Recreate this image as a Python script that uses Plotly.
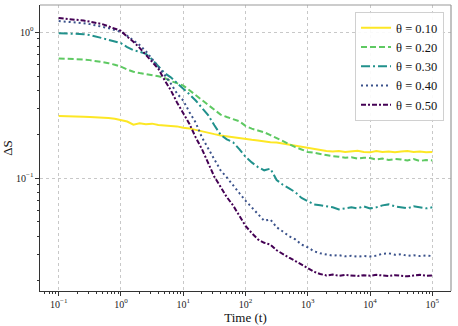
import plotly.graph_objects as go

# log10(t) sample exponents
log_t = [-1.0, -0.9, -0.8, -0.7, -0.6, -0.5, -0.4, -0.3, -0.2, -0.1,
         0.0, 0.1, 0.2, 0.3, 0.4, 0.5, 0.6, 0.7, 0.8, 0.9,
         1.0, 1.1, 1.2, 1.3, 1.4, 1.5, 1.6, 1.7, 1.8, 1.9,
         2.0, 2.1, 2.2, 2.3, 2.4, 2.5, 2.6, 2.7, 2.8, 2.9,
         3.0, 3.1, 3.2, 3.3, 3.4, 3.5, 3.6, 3.7, 3.8, 3.9,
         4.0, 4.1, 4.2, 4.3, 4.4, 4.5, 4.6, 4.7, 4.8, 4.9, 5.0]
time_t = [10 ** e for e in log_t]

theta_labels = ["θ = 0.10", "θ = 0.20", "θ = 0.30", "θ = 0.40", "θ = 0.50"]

ds_010 = [0.266, 0.266, 0.265, 0.264, 0.263, 0.262, 0.261, 0.260, 0.258, 0.255,
          0.250, 0.244, 0.232, 0.237, 0.234, 0.236, 0.231, 0.230, 0.227, 0.226,
          0.221, 0.219, 0.214, 0.210, 0.204, 0.200, 0.196, 0.193, 0.190, 0.188,
          0.185, 0.183, 0.181, 0.178, 0.176, 0.175, 0.172, 0.169, 0.166, 0.163,
          0.160, 0.157, 0.155, 0.153, 0.152, 0.153, 0.151, 0.152, 0.154, 0.151,
          0.150, 0.153, 0.151, 0.152, 0.150, 0.152, 0.153, 0.151, 0.152, 0.150, 0.151]

ds_020 = [0.660, 0.659, 0.657, 0.654, 0.650, 0.643, 0.635, 0.625, 0.613, 0.598,
          0.580, 0.555, 0.535, 0.524, 0.516, 0.508, 0.498, 0.486, 0.462, 0.447,
          0.430, 0.400, 0.370, 0.342, 0.316, 0.292, 0.272, 0.262, 0.254, 0.245,
          0.228, 0.218, 0.212, 0.206, 0.197, 0.188, 0.178, 0.170, 0.163, 0.157,
          0.151, 0.149, 0.146, 0.143, 0.141, 0.140, 0.138, 0.139, 0.136, 0.138,
          0.137, 0.134, 0.136, 0.133, 0.135, 0.134, 0.132, 0.135, 0.131, 0.133, 0.132]

ds_030 = [0.984, 0.982, 0.979, 0.975, 0.968, 0.955, 0.935, 0.910, 0.885, 0.862,
          0.840, 0.790, 0.752, 0.735, 0.710, 0.650, 0.580, 0.525, 0.490, 0.450,
          0.410, 0.375, 0.340, 0.305, 0.270, 0.230, 0.198, 0.184, 0.176, 0.158,
          0.140, 0.128, 0.119, 0.113, 0.116, 0.097, 0.090, 0.085, 0.080, 0.073,
          0.069, 0.066, 0.065, 0.064, 0.063, 0.061, 0.062, 0.063, 0.062, 0.064,
          0.062, 0.063, 0.065, 0.066, 0.064, 0.063, 0.062, 0.064, 0.063, 0.062, 0.063]

ds_040 = [1.190, 1.183, 1.175, 1.165, 1.152, 1.135, 1.115, 1.090, 1.065, 1.035,
          1.005, 0.945, 0.880, 0.815, 0.740, 0.660, 0.580, 0.510, 0.445, 0.380,
          0.340, 0.283, 0.240, 0.190, 0.160, 0.132, 0.113, 0.101, 0.090, 0.079,
          0.070, 0.063, 0.057, 0.051, 0.052, 0.046, 0.043, 0.040, 0.038, 0.035,
          0.0335, 0.0315, 0.0305, 0.0298, 0.0294, 0.0296, 0.0291, 0.0293, 0.0289, 0.0292,
          0.0290, 0.0294, 0.0303, 0.0305, 0.0298, 0.0301, 0.0293, 0.0296, 0.0292, 0.0295, 0.0292]

ds_050 = [1.250, 1.240, 1.228, 1.215, 1.200, 1.180, 1.160, 1.135, 1.095, 1.060,
          1.020, 0.930, 0.860, 0.780, 0.700, 0.630, 0.560, 0.470, 0.400, 0.330,
          0.280, 0.235, 0.190, 0.158, 0.127, 0.102, 0.087, 0.074, 0.065, 0.055,
          0.047, 0.042, 0.038, 0.0360, 0.0350, 0.0320, 0.0300, 0.0285, 0.0270, 0.0255,
          0.0243, 0.0228, 0.0220, 0.0215, 0.0218, 0.0214, 0.0217, 0.0215, 0.0213, 0.0216,
          0.0214, 0.0217, 0.0215, 0.0213, 0.0216, 0.0214, 0.0212, 0.0215, 0.0217, 0.0214, 0.0215]

series = [ds_010, ds_020, ds_030, ds_040, ds_050]
colors = ["#fde725", "#5ec962", "#21918c", "#3b528b", "#440154"]
dashes = ["solid", "6px,3px", "9px,3px,2px,3px", "2px,3px", "5px,2px,2px,2px"]

x_tick_vals = [0.1, 1, 10, 100, 1000, 10000, 100000]
x_tick_text = ["10<sup>−1</sup>", "10<sup>0</sup>", "10<sup>1</sup>", "10<sup>2</sup>",
               "10<sup>3</sup>", "10<sup>4</sup>", "10<sup>5</sup>"]
y_tick_vals = [0.1, 1]
y_tick_text = ["10<sup>−1</sup>", "10<sup>0</sup>"]

font_family = "'Liberation Serif', 'Times New Roman', serif"

fig = go.Figure()
for lbl, ys, c, d in zip(theta_labels, series, colors, dashes):
    fig.add_trace(go.Scatter(x=time_t, y=ys, mode="lines", name=lbl,
                             line=dict(color=c, width=2, dash=d)))

minor_x = [m * 10 ** e for e in range(-2, 6) for m in range(2, 10)]
minor_y = [m * 10 ** e for e in range(-2, 1) for m in range(2, 10)]

axis_common = dict(
    type="log", showline=True, linecolor="#333", linewidth=1.2, mirror=False,
    ticks="outside", ticklen=3.5, tickwidth=0.8, tickcolor="#333",
    showgrid=True, gridcolor="#c8c8c8", griddash="dot", gridwidth=0.8,
    zeroline=False, automargin=False,
    tickfont=dict(family=font_family, size=10, color="#222"),
)

fig.update_xaxes(**axis_common, range=[-1.3, 5.3], tickmode="array",
                 tickvals=x_tick_vals, ticktext=x_tick_text,
                 minor=dict(tickmode="array", tickvals=minor_x, ticks="outside",
                            ticklen=2, tickwidth=0.6, tickcolor="#333", showgrid=False),
                 title=dict(text="Time (t)", font=dict(family=font_family, size=13, color="#111"),
                            standoff=4))
fig.update_yaxes(**axis_common, range=[-1.774, 0.186], tickmode="array",
                 tickvals=y_tick_vals, ticktext=y_tick_text,
                 minor=dict(tickmode="array", tickvals=minor_y, ticks="outside",
                            ticklen=2, tickwidth=0.6, tickcolor="#333", showgrid=False),
                 title=dict(text="ΔS", font=dict(family=font_family, size=13, color="#111"),
                            standoff=6))

fig.add_shape(type="line", xref="paper", yref="paper", x0=0, x1=1, y0=1, y1=1,
              line=dict(color="#999", width=1.2))
fig.add_shape(type="line", xref="paper", yref="paper", x0=1, x1=1, y0=0, y1=1,
              line=dict(color="#999", width=1.2))

fig.update_layout(
    width=458, height=326,
    margin=dict(l=40, r=7, t=5, b=35),
    plot_bgcolor="white", paper_bgcolor="white",
    font=dict(family=font_family, color="#111"),
    legend=dict(x=0.983, y=0.975, xanchor="right", yanchor="top",
                bgcolor="rgba(255,255,255,0.9)", bordercolor="#d0d0d0", borderwidth=1,
                font=dict(family=font_family, size=12.5, color="#111"),
                itemwidth=30, tracegroupgap=0),
    showlegend=True,
)

fig.write_html("out.html", config={"displayModeBar": False},
               post_script="document.body.style.margin='0';document.body.style.padding='0';")
